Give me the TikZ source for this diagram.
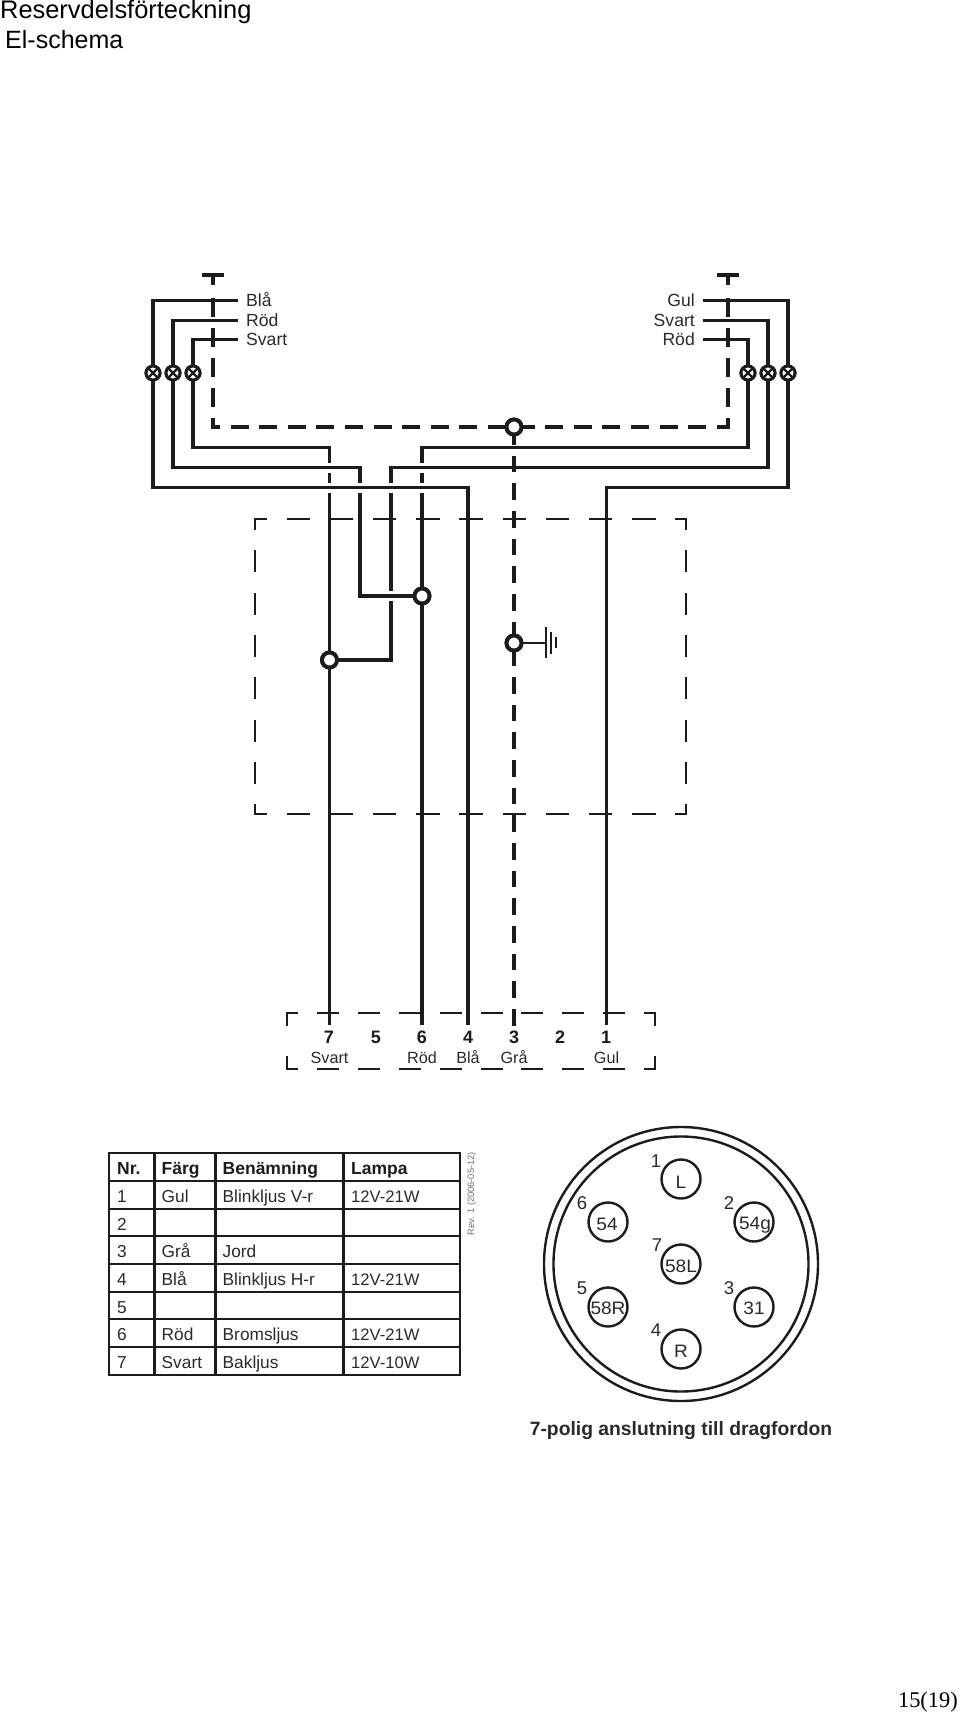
\documentclass[tikz,border=0pt]{standalone}
\usepackage{fontspec}
\setmainfont{Liberation Sans}
\newfontfamily\serifnum{Liberation Serif}
\newfontfamily\cadfont[FakeStretch=1.06]{Liberation Sans}
\definecolor{ink}{HTML}{1C1C1C}
\definecolor{txt}{HTML}{2A2A2A}
\definecolor{revgray}{HTML}{707070}
\newcommand{\fs}[1]{\fontsize{#1}{#1}\selectfont}
\tikzset{
  wire/.style={draw=ink,line width=3.9,line join=miter},
  cutwire/.style={wire,preaction={draw=white,line width=10}},
  earthdash/.style={draw=ink,line width=4.2},
  thinbox/.style={draw=ink,line width=2.5,line cap=rect},
  lamp/.style={circle,draw=ink,fill=white,line width=3,minimum size=14,inner sep=0pt,
    path picture={\draw[ink,line width=2.4] (path picture bounding box.north west)--(path picture bounding box.south east)
      (path picture bounding box.north east)--(path picture bounding box.south west);}},
  junction/.style={circle,draw=ink,fill=white,line width=3.9,minimum size=15,inner sep=0pt},
  wirelabel/.style={text=txt,font=\fs{17.6},inner sep=0pt},
  conn/.style={text=txt,font=\fs{16.2},inner sep=0pt,anchor=base},
  connnum/.style={text=ink,font=\fs{18}\bfseries,inner sep=0pt,anchor=base},
  cell/.style={text=txt,font=\fs{17.3},inner sep=0pt,anchor=base west},
  headcell/.style={text=ink,font=\fs{17.5}\bfseries,inner sep=0pt,anchor=base west},
  ring/.style={draw=ink,line width=2.4},
  pin/.style={circle,draw=ink,line width=2.4,minimum size=39,inner sep=0pt},
  pintext/.style={text=txt,font=\cadfont\fs{18},inner sep=0pt,anchor=base},
  pinnum/.style={text=txt,font=\fs{18.5},inner sep=0pt},
  tabline/.style={draw=ink,line width=2.8}
}
\begin{document}
\begin{tikzpicture}[x=1pt,y=-1pt]
\fill[white] (0,0) rectangle (960,1716);
\useasboundingbox (0,0) rectangle (960,1716);

% header / footer
\node[anchor=base west,inner sep=0pt,text=black,font=\fs{25.4}] (title) at (0,18) {Reservdelsförteckning};
\node[anchor=base west,inner sep=0pt,text=black,font=\fs{25}] (subtitle) at (5,48) {El-schema};
\node[anchor=base east,inner sep=0pt,text=black,font=\serifnum\fs{22.4}] (page) at (958,1707) {15(19)};

% terminals
\coordinate (BlaL) at (238,300.5);
\coordinate (RodL) at (238,320.5);
\coordinate (SvaL) at (238,339.5);
\coordinate (GulR) at (703,300.5);
\coordinate (SvaR) at (703,320.5);
\coordinate (RodR) at (703,339.5);
\coordinate (P7) at (329.5,1025);
\coordinate (P6) at (422,1025);
\coordinate (P4) at (468,1025);
\coordinate (P3) at (514,1026);
\coordinate (P1) at (606.5,1025);

\node[junction] (J7) at (329.5,660) {};
\node[junction] (J6) at (422,596) {};
\node[junction] (Jg) at (514,643) {};
\node[junction] (Jt) at (514,427) {};
\node[lamp] (L1) at (153,373) {};
\node[lamp] (L2) at (173,373) {};
\node[lamp] (L3) at (193,373) {};
\node[lamp] (R1) at (748,373) {};
\node[lamp] (R2) at (768,373) {};
\node[lamp] (R3) at (788,373) {};

% wires
\draw[wire] (SvaL) -- (193,339.5) -- (193,447.5) -- (329.5,447.5) -- (J7.center) -- (P7);
\draw[wire] (RodR) -- (748,339.5) -- (748,447.5) -- (422,447.5) -- (J6.center) -- (P6);
\draw[cutwire] (SvaR) -- (768,320.5) -- (768,467.5) -- (391,467.5) -- (391,660) -- (J7.center);
\draw[cutwire] (RodL) -- (173,320.5) -- (173,467.5) -- (360,467.5) -- (360,596) -- (J6.center);
\draw[cutwire] (BlaL) -- (153,300.5) -- (153,487.5) -- (468,487.5) -- (P4);
\draw[wire] (GulR) -- (788,300.5) -- (788,487.5) -- (606.5,487.5) -- (P1);

% earth wiring
\coordinate (TL) at (213,275);
\coordinate (TR) at (728,275);
\draw[earthdash] (202,275) -- (224,275);
\draw[earthdash] (717,275) -- (739,275);
\draw[earthdash] (TL) -- (213,285);
\draw[earthdash] (TR) -- (728,285);
\draw[earthdash,dash pattern=on 19 off 11,dash phase=10] (213,427) -- (213,298);
\draw[earthdash,dash pattern=on 19 off 11,dash phase=10] (728,427) -- (728,298);
\draw[earthdash,dash pattern=on 18 off 10.6,dash phase=9] (211,427) -- (730,427);
\draw[earthdash,dash pattern=on 16.7 off 10.97] (514,428) -- (P3);

% thin dashed boxes
\draw[thinbox,dash pattern=on 20.8 off 22.4,dash phase=10.35] (255,519) -- (686,519);
\draw[thinbox,dash pattern=on 20.8 off 22.4,dash phase=10.35] (255,814) -- (686,814);
\draw[thinbox,dash pattern=on 19.5 off 22.8,dash phase=9.75] (255,519) -- (255,814);
\draw[thinbox,dash pattern=on 19.5 off 22.8,dash phase=9.75] (686,519) -- (686,814);
\draw[thinbox,dash pattern=on 19.5 off 21.4,dash phase=9.75] (287,1013) -- (655,1013);
\draw[thinbox,dash pattern=on 19.5 off 21.4,dash phase=9.75] (287,1069) -- (655,1069);
\draw[thinbox,dash pattern=on 11.7 off 32.6] (287,1013) -- (287,1069);
\draw[thinbox,dash pattern=on 11.7 off 32.6] (655,1013) -- (655,1069);

% nodes on top of wires
\node[junction] at (J7.center) {};
\node[junction] at (J6.center) {};
\node[junction] at (Jg.center) {};
\node[junction] at (Jt.center) {};
\foreach \n in {L1,L2,L3,R1,R2,R3}{\node[lamp] at (\n.center) {};}

% ground symbol
\coordinate (G1) at (546,643);
\draw[ink,line width=2.2] (Jg.east) -- (G1);
\draw[ink,line width=2.2] (546,627) -- (546,658);
\draw[ink,line width=2.2] (551,632) -- (551,654);
\draw[ink,line width=2.2] (556,637) -- (556,648);

% wire labels
\node[wirelabel,anchor=base west] (lb1) at (246,306) {Blå};
\node[wirelabel,anchor=base west] (lb2) at (246,326) {Röd};
\node[wirelabel,anchor=base west] (lb3) at (246,345.5) {Svart};
\node[wirelabel,anchor=base east] (rb1) at (695,306) {Gul};
\node[wirelabel,anchor=base east] (rb2) at (695,326) {Svart};
\node[wirelabel,anchor=base east] (rb3) at (695,345.5) {Röd};

% connector labels
\node[connnum] (n7) at (329,1043) {7};
\node[connnum] (n5) at (376,1043) {5};
\node[connnum] (n6) at (422,1043) {6};
\node[connnum] (n4) at (468,1043) {4};
\node[connnum] (n3) at (514,1043) {3};
\node[connnum] (n2) at (560,1043) {2};
\node[connnum] (n1) at (606,1043) {1};
\node[conn] (c7) at (329.5,1063) {Svart};
\node[conn] (c6) at (422,1063) {Röd};
\node[conn] (c4) at (468,1063) {Blå};
\node[conn] (c3) at (514,1063) {Grå};
\node[conn] (c1) at (606.5,1063) {Gul};

% table
\foreach \yy in {1153,1181,1209,1236,1264,1292,1319,1347,1375}{\draw[tabline] (107.6,\yy) -- (461.4,\yy);}
\foreach \xx in {109,154.5,215.5,343.5,460}{\draw[tabline] (\xx,1153) -- (\xx,1375);}
\node[headcell] (h1) at (117,1174) {Nr.};
\node[headcell] (h2) at (161.5,1174) {Färg};
\node[headcell] (h3) at (222.5,1174) {Benämning};
\node[headcell] (h4) at (351,1174) {Lampa};
\node[cell] (r1a) at (117,1202) {1};
\node[cell] (r1b) at (161.5,1202) {Gul};
\node[cell] (r1c) at (222.5,1202) {Blinkljus V-r};
\node[cell,font=\fs{16.6}] (r1d) at (351,1202) {12V-21W};
\node[cell] (r2a) at (117,1230) {2};
\node[cell] (r3a) at (117,1257) {3};
\node[cell] (r3b) at (161.5,1257) {Grå};
\node[cell] (r3c) at (222.5,1257) {Jord};
\node[cell] (r4a) at (117,1285) {4};
\node[cell] (r4b) at (161.5,1285) {Blå};
\node[cell] (r4c) at (222.5,1285) {Blinkljus H-r};
\node[cell,font=\fs{16.6}] (r4d) at (351,1285) {12V-21W};
\node[cell] (r5a) at (117,1313) {5};
\node[cell] (r6a) at (117,1340) {6};
\node[cell] (r6b) at (161.5,1340) {Röd};
\node[cell] (r6c) at (222.5,1340) {Bromsljus};
\node[cell,font=\fs{16.6}] (r6d) at (351,1340) {12V-21W};
\node[cell] (r7a) at (117,1368) {7};
\node[cell] (r7b) at (161.5,1368) {Svart};
\node[cell] (r7c) at (222.5,1368) {Bakljus};
\node[cell,font=\fs{16.6}] (r7d) at (351,1368) {12V-10W};
\node[rotate=90,anchor=base east,inner sep=0pt,text=revgray,font=\fs{9.3}] (rev) at (474,1152) {Rev. 1 (2006-05-12)};

% plug face
\draw[ring] (681,1264) circle[radius=137];
\draw[ring] (681,1264) circle[radius=127.5];
\node[pin] (p1) at (681,1179) {};
\node[pin] (p6) at (608,1222) {};
\node[pin] (p2) at (754,1222) {};
\node[pin] (p7) at (681,1264) {};
\node[pin] (p5) at (608,1307) {};
\node[pin] (p3) at (754,1307) {};
\node[pin] (p4) at (681,1349) {};
\node[pintext] (tL) at (681,1188) {L};
\node[pintext] (t54) at (607,1230) {54};
\node[pintext] (t54g) at (755,1229) {54g};
\node[pintext] (t58L) at (681,1272) {58L};
\node[pintext] (t58R) at (608,1314) {58R};
\node[pintext] (t31) at (754,1314) {31};
\node[pintext] (tR) at (681,1357) {R};
\node[pinnum] (q1) at (656,1161) {1};
\node[pinnum] (q6) at (582,1203) {6};
\node[pinnum] (q2) at (729,1203) {2};
\node[pinnum] (q7) at (657,1245) {7};
\node[pinnum] (q5) at (582,1288) {5};
\node[pinnum] (q3) at (729,1288) {3};
\node[pinnum] (q4) at (656,1330) {4};
\node[anchor=base,inner sep=0pt,text=txt,font=\fs{19.3}\bfseries] (cap) at (681,1435) {7-polig anslutning till dragfordon};
\end{tikzpicture}
\end{document}
